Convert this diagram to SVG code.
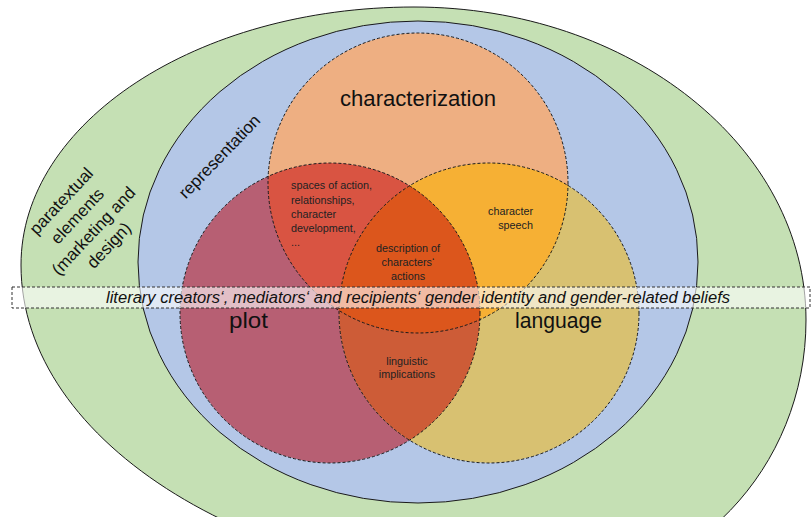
<svg xmlns="http://www.w3.org/2000/svg" width="811" height="517" viewBox="0 0 811 517">
  <defs>
    <clipPath id="clipChar"><ellipse cx="418" cy="183" rx="150" ry="150"/></clipPath>
    <clipPath id="clipPlot"><ellipse cx="330" cy="313" rx="150" ry="150"/></clipPath>
    <style>
      .outline { stroke: #1a1a1a; stroke-width: 1; }
      .dash { fill: none; stroke: #1a1a1a; stroke-width: 1; stroke-dasharray: 3 2; }
      .big { font-family: "Liberation Sans", Arial, sans-serif; font-size: 22px; fill: #111; }
      .small { font-family: "Liberation Sans", Arial, sans-serif; font-size: 10.8px; fill: #222; }
      .side { font-family: "Liberation Sans", Arial, sans-serif; font-size: 17px; fill: #111; text-anchor: middle; }
      .band { font-family: "Liberation Sans", Arial, sans-serif; font-size: 16px; font-style: italic; fill: #111; }
    </style>
  </defs>

  <rect width="811" height="517" fill="#ffffff"/>

  <g id="paratextual">
    <path class="outline" fill="#C5E0B4" d="M 414 7 C 630.5 7 806 147.1 806 320 C 806 468.6 690.5 589 548 589 C 257 589 21 444 21 265 C 21 122.5 197 7 414 7 Z"/>
  </g>

  <g id="representation">
    <ellipse cx="418" cy="262" rx="280" ry="241" class="outline" fill="#B4C7E7"/>
  </g>

  <g id="fills">
    <ellipse cx="418" cy="183" rx="150" ry="150" fill="#EEAF82"/>
    <ellipse cx="330" cy="313" rx="150" ry="150" fill="#B75F73"/>
    <ellipse cx="489" cy="313" rx="150" ry="150" fill="#D8C171"/>
    <g clip-path="url(#clipChar)">
      <ellipse cx="330" cy="313" rx="150" ry="150" fill="#D95442"/>
      <ellipse cx="489" cy="313" rx="150" ry="150" fill="#F6B034"/>
    </g>
    <g clip-path="url(#clipPlot)">
      <ellipse cx="489" cy="313" rx="150" ry="150" fill="#CD5C37"/>
      <g clip-path="url(#clipChar)">
        <ellipse cx="489" cy="313" rx="150" ry="150" fill="#DC561C"/>
      </g>
    </g>
  </g>

  <g id="characterization">
    <ellipse cx="418" cy="183" rx="150" ry="150" class="dash"/>
    <text class="big" x="340" y="106" textLength="156" lengthAdjust="spacingAndGlyphs">characterization</text>
  </g>
  <g id="plot">
    <ellipse cx="330" cy="313" rx="150" ry="150" class="dash"/>
  </g>
  <g id="language">
    <ellipse cx="489" cy="313" rx="150" ry="150" class="dash"/>
  </g>

  <g id="band">
    <rect x="12" y="287" width="798" height="21" fill="#ffffff" fill-opacity="0.6" stroke="#333" stroke-width="1" stroke-dasharray="3 2"/>
    <text class="band" x="106" y="303" textLength="624" lengthAdjust="spacingAndGlyphs">literary creators‘, mediators‘ and recipients‘ gender identity and gender-related beliefs</text>
  </g>

  <g id="plot-label">
    <text class="big" x="229" y="328" textLength="39" lengthAdjust="spacingAndGlyphs">plot</text>
  </g>
  <g id="language-label">
    <text class="big" x="515" y="328" textLength="87" lengthAdjust="spacingAndGlyphs">language</text>
  </g>

  <g id="paratextual-label" transform="translate(86,224) rotate(-47)">
    <text class="side" x="0" y="-28">paratextual</text>
    <text class="side" x="0" y="-6">elements</text>
    <text class="side" x="0" y="16">(marketing and</text>
    <text class="side" x="0" y="37">design)</text>
  </g>

  <g id="representation-label" transform="translate(220,157) rotate(-46)">
    <text class="side" x="0" y="5">representation</text>
  </g>

  <g id="plot-char-label">
    <text class="small" x="291" y="189">spaces of action,</text>
    <text class="small" x="291" y="204">relationships,</text>
    <text class="small" x="291" y="218">character</text>
    <text class="small" x="291" y="232">development,</text>
    <text class="small" x="291" y="246">...</text>
  </g>

  <g id="center-label" style="text-anchor: middle">
    <text class="small" x="408" y="252">description of</text>
    <text class="small" x="408" y="266">characters‘</text>
    <text class="small" x="408" y="280">actions</text>
  </g>

  <g id="char-lang-label" style="text-anchor: end">
    <text class="small" x="533" y="215">character</text>
    <text class="small" x="533" y="229">speech</text>
  </g>

  <g id="plot-lang-label" style="text-anchor: middle">
    <text class="small" x="407" y="365">linguistic</text>
    <text class="small" x="407" y="378">implications</text>
  </g>
</svg>
